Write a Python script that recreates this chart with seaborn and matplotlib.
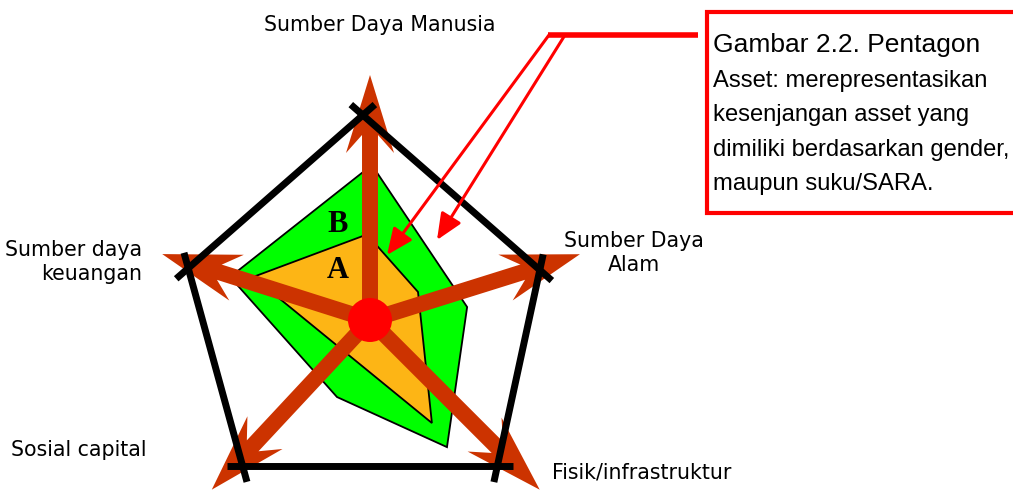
import numpy as np
import pandas as pd
import matplotlib
matplotlib.use("Agg")
import matplotlib.pyplot as plt
import seaborn as sns
from matplotlib.patches import Polygon, Circle, Rectangle

# ---------------- data ----------------
categories = ["Sumber Daya Manusia", "Sumber Daya\nAlam", "Fisik/infrastruktur",
              "Sosial capital", "Sumber daya\nkeuangan"]
# arrow (axis) directions in degrees and lengths
axis_theta = [90.0, 17.4, -45.0, -133.0, 162.4]
axis_len = [12.25, 11.0, 12.0, 11.6, 10.9]
# outer pentagon (maximum asset)
outer_theta = [92.0, 16.4, -49.0, -131.0, 164.1]
outer_r = [10.25, 8.85, 9.7, 9.7, 9.45]
# series B (green)
b_theta = [89.3, 7.6, -58.8, -113.2, 162.9]
b_r = [7.75, 4.9, 7.43, 4.19, 7.32]
# series A (orange)
a_theta = [92.0, 30.3, -59.0, 159.8]
a_r = [4.28, 2.78, 6.01, 6.23]

caption_lines = ["Gambar 2.2. Pentagon", "Asset: merepresentasikan",
                 "kesenjangan asset yang", "dimiliki berdasarkan gender,",
                 "maupun suku/SARA."]

# ---------------- style ----------------
GREEN = "#00FF00"
ORANGE = "#FDB515"
BROWN = "#CC3300"
RED = "#FF0000"

sns.set_theme(style="white")
plt.rcParams["font.family"] = ["DejaVu Sans"]
plt.rcParams["text.color"] = "black"

W, H = 1013, 491
PX = 20.0          # pixels per data unit
CX, CY = 370, 320  # pixel position of the centre


def pol(theta, r):
    t = np.deg2rad(np.asarray(theta, float))
    r = np.asarray(r, float)
    return r * np.cos(t), r * np.sin(t)


def fx(x):
    return x / W


def fy(y):
    return 1 - y / H


fig = plt.figure(figsize=(W / 100, H / 100), dpi=100)
ax = fig.add_axes([0, 0, 1, 1])
ax.set_xlim(-CX / PX, (W - CX) / PX)
ax.set_ylim(-(H - CY) / PX, CY / PX)
ax.axis("off")

# polygons B and A
bx, by = pol(b_theta, b_r)
ax.add_patch(Polygon(np.column_stack([bx, by]), closed=True, facecolor=GREEN,
                     edgecolor="black", lw=1.3, zorder=1))
axx, ayy = pol(a_theta, a_r)
ax.add_patch(Polygon(np.column_stack([axx, ayy]), closed=True, facecolor=ORANGE,
                     edgecolor="black", lw=1.3, zorder=2))

# arrows: shafts + heads
HL, HW, NL = 3.9, 1.2, 3.0
for th, ln in zip(axis_theta, axis_len):
    d = np.array(pol(th, 1.0))
    n = np.array([-d[1], d[0]])
    tip = d * ln
    end = tip - d * (NL - 0.6)
    ax.plot([0, end[0]], [0, end[1]], color=BROWN, lw=11.5,
            solid_capstyle="butt", zorder=3)
    head = np.array([tip,
                     tip - HL * d + HW * n,
                     tip - NL * d + 0.4 * n,
                     tip - NL * d - 0.4 * n,
                     tip - HL * d - HW * n])
    ax.add_patch(Polygon(head, closed=True, facecolor=BROWN, edgecolor="none",
                         zorder=4))

# outer pentagon with extended edges (seaborn)
ox, oy = pol(outer_theta, outer_r)
ext = 0.8
erows = []
for i in range(5):
    p = np.array([ox[i], oy[i]])
    q = np.array([ox[(i + 1) % 5], oy[(i + 1) % 5]])
    u = (q - p) / np.linalg.norm(q - p)
    a0 = p - u * ext
    a1 = q + u * ext
    erows.append({"x": a0[0], "y": a0[1], "edge": i})
    erows.append({"x": a1[0], "y": a1[1], "edge": i})
edges = pd.DataFrame(erows)
sns.lineplot(data=edges, x="x", y="y", units="edge", estimator=None, sort=False,
             color="black", linewidth=5.0, solid_capstyle="butt", legend=False,
             ax=ax, zorder=5)
ax.set_xlabel("")
ax.set_ylabel("")
ax.axis("off")

# centre dot
ax.add_patch(Circle((0, 0), 22 / PX, facecolor=RED, edgecolor="none", zorder=6))

# A / B labels
ax.text(fx(338), fy(224), "B", transform=ax.transAxes, ha="center", va="center",
        fontsize=22, fontweight="bold", family="Liberation Serif", zorder=7)
ax.text(fx(338), fy(271), "A", transform=ax.transAxes, ha="center", va="center",
        fontsize=22, fontweight="bold", family="Liberation Serif", zorder=7)

# category labels
lab_fs = 14.8
ax.text(fx(380), fy(25), categories[0], transform=ax.transAxes, ha="center",
        va="center", fontsize=lab_fs)
ax.text(fx(634), fy(253), categories[1], transform=ax.transAxes, ha="center",
        va="center", fontsize=lab_fs, linespacing=1.25)
ax.text(fx(552), fy(472), categories[2], transform=ax.transAxes, ha="left",
        va="center", fontsize=lab_fs)
ax.text(fx(11), fy(450), categories[3], transform=ax.transAxes, ha="left",
        va="center", fontsize=lab_fs)
ax.text(fx(142), fy(262), categories[4], transform=ax.transAxes, ha="right",
        va="center", fontsize=lab_fs, linespacing=1.3)

# caption box
ax.add_patch(Rectangle((fx(706.5), fy(213)), fx(1020) - fx(706.5), fy(11.5) - fy(213),
                       transform=ax.transAxes, facecolor="white", edgecolor=RED,
                       lw=3.0, zorder=8, clip_on=False))
base = [52, 87, 121, 156, 190]
for k, (line, yb) in enumerate(zip(caption_lines, base)):
    ax.text(fx(713), fy(yb), line, transform=ax.transAxes, ha="left", va="baseline",
            fontsize=19 if k == 0 else 17.1, family="Liberation Sans", zorder=9)

# red leader line and arrows
ax.plot([fx(548), fx(698)], [fy(35), fy(35)], transform=ax.transAxes, color=RED,
        lw=4.0, solid_capstyle="butt", zorder=8)
for (sx, sy), (tx, ty) in [((549, 35), (387, 255)), ((565, 35), (437, 240))]:
    ax.annotate("", xy=(fx(tx), fy(ty)), xytext=(fx(sx), fy(sy)),
                xycoords="axes fraction", textcoords="axes fraction",
                arrowprops=dict(arrowstyle="-|>,head_length=0.8,head_width=0.35",
                                mutation_scale=20, color=RED, lw=2.2,
                                shrinkA=0, shrinkB=0),
                zorder=8)

fig.savefig("out.png", dpi=100)
